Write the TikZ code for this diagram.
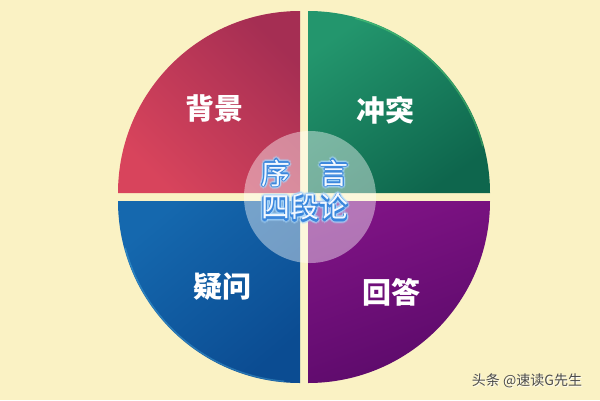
\documentclass[tikz,border=0pt]{standalone}
\usepackage{fontspec}
\newfontfamily\cjk{Noto Sans CJK SC}
\usetikzlibrary{positioning}

\definecolor{bgyellow}{HTML}{FAF2C4}
\definecolor{redlight}{HTML}{D8445C}
\definecolor{reddark}{HTML}{A52E53}
\definecolor{greenlight}{HTML}{23966D}
\definecolor{greendark}{HTML}{0E664D}
\definecolor{bluelight}{HTML}{1568AE}
\definecolor{bluedark}{HTML}{0B4C92}
\definecolor{purplelight}{HTML}{7F1385}
\definecolor{purpledark}{HTML}{5A0A69}
\definecolor{glowblue}{HTML}{3A86DC}
\definecolor{haloblue}{HTML}{A8D8FF}
\definecolor{textwhite}{HTML}{F2F8FF}

\tikzset{
  quarter/.style={draw=none},
  rim/.style={line width=1.4pt, opacity=0.3},
  label/.style={text=white, font=\cjk\bfseries\labelfontsize, inner sep=0pt},
  titletext/.style={font=\cjk\labelfontsize, inner sep=0pt},
}

\begin{document}
\begin{tikzpicture}[x=1pt,y=-1pt]
\def\rad{182}
\def\labelfontsize{\fontsize{29}{29}\selectfont}

\useasboundingbox (0,0) rectangle (600,400);
\fill[bgyellow] (0,0) rectangle (600,400);

% four quarters, the gap is 8 wide
\path[quarter, top color=reddark, bottom color=redlight, shading angle=-45]
  (300,193) -- ++(-\rad,0) arc[start angle=180, end angle=270, radius=\rad] -- cycle;
\path[quarter, top color=greenlight, bottom color=greendark, shading angle=35]
  (308,193) -- ++(0,-\rad) arc[start angle=270, end angle=360, radius=\rad] -- cycle;
\path[quarter, top color=purplelight, bottom color=purpledark, shading angle=20]
  (308,201) -- ++(\rad,0) arc[start angle=0, end angle=90, radius=\rad] -- cycle;
\path[quarter, top color=bluelight, bottom color=bluedark, shading angle=40]
  (300,201) -- ++(0,\rad) arc[start angle=90, end angle=180, radius=\rad] -- cycle;

\draw[rim, draw=green!50!white] (308,193) ++(285:\rad-1) arc[start angle=285, end angle=345, radius=\rad-1];
\draw[rim, draw=cyan!60!white] (300,201) ++(95:\rad-1) arc[start angle=95, end angle=165, radius=\rad-1];

\node[label] (beijing) at (214,108) {背景};
\node[label] (chongtu) at (385,110) {冲突};
\node[label] (yiwen) at (222,287) {疑问};
\node[label] (huida) at (391,292) {回答};

% centre disc
\fill[white, opacity=0.42] (310,197) circle (66);

% glow round the title
\foreach \r/\c/\o in {3.4/haloblue/0.3, 2.3/haloblue/0.5, 1.1/glowblue/0.9} {
  \foreach \a in {0,45,...,315} {
    \node[titletext, text=\c, opacity=\o] at ([shift={(\a:\r)}]305,173) {序　言};
    \node[titletext, text=\c, opacity=\o] at ([shift={(\a:\r)}]305,208) {四段论};
  }
}
\node[titletext, text=textwhite] (xuyan) at (305,173) {序　言};
\node[titletext, text=textwhite, below=6pt of xuyan] (siduanlun) {四段论};

\node[font=\cjk\fontsize{14}{14}\selectfont, text=white, opacity=0.8] at (528,382) {头条 @速读G先生};
\node[font=\cjk\fontsize{14}{14}\selectfont, text=black!70] (mark) at (527,381) {头条 @速读G先生};

\end{tikzpicture}
\end{document}
